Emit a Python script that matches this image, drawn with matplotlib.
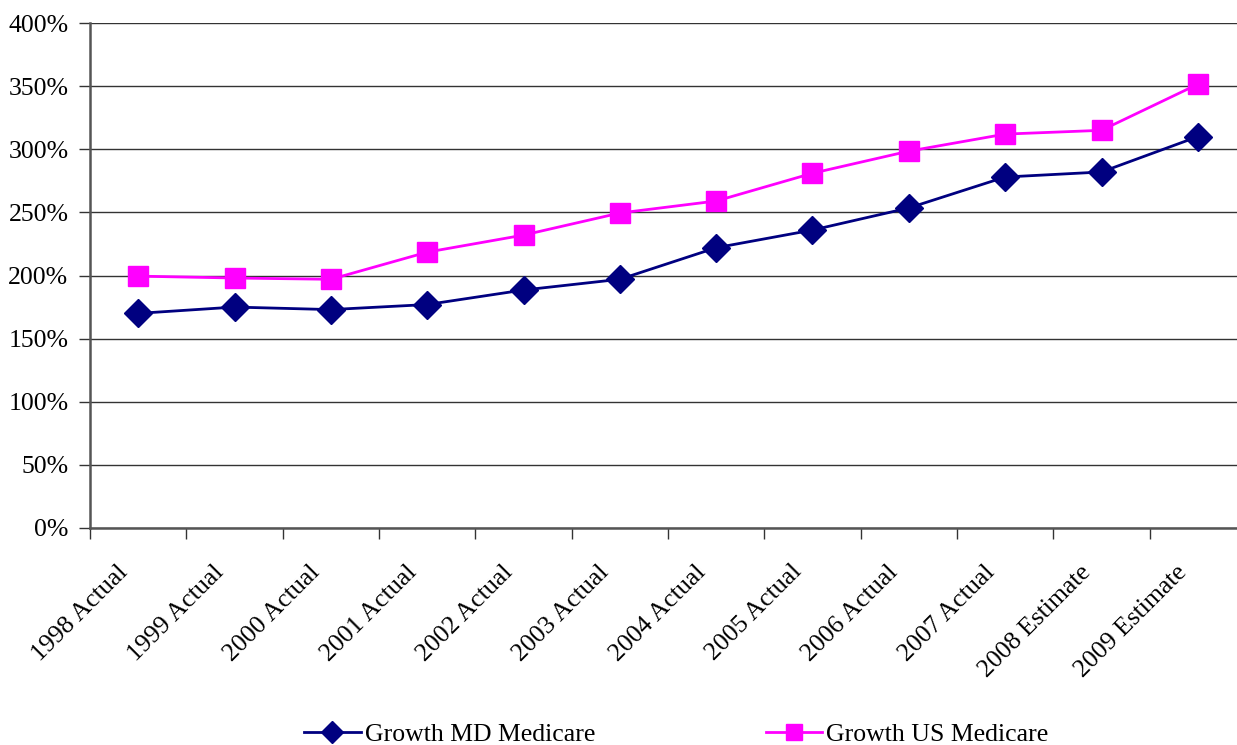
import numpy as np
import matplotlib.pyplot as plt
from matplotlib.ticker import PercentFormatter
from matplotlib.transforms import ScaledTranslation

# データ
years = ['1998 Actual', '1999 Actual', '2000 Actual', '2001 Actual', '2002 Actual',
         '2003 Actual', '2004 Actual', '2005 Actual', '2006 Actual', '2007 Actual',
         '2008 Estimate', '2009 Estimate']
md_growth = [170, 175, 173, 177, 188.5, 197, 222, 236, 253.5, 278, 282, 310]
us_growth = [199.5, 198, 197, 218.5, 232, 249.5, 259, 281, 298.5, 312, 315, 351.5]

plt.rcParams['font.family'] = ['Liberation Serif', 'DejaVu Serif']

fig = plt.figure(figsize=(12.37, 7.45), dpi=100)
ax = fig.add_axes([90 / 1237, 1 - 528 / 745, 1156 / 1237, 505 / 745])

x = np.arange(len(years))
ax.plot(x, md_growth, color='#000080', lw=2, marker='D', ms=14,
        label='Growth MD Medicare')
ax.plot(x, us_growth, color='#FF00FF', lw=2, marker='s', ms=15,
        label='Growth US Medicare')

ax.set_xlim(-0.5, len(years) - 0.5)
ax.set_ylim(0, 400)
ax.set_yticks(np.arange(0, 401, 50))
ax.yaxis.set_major_formatter(PercentFormatter(decimals=0))
ax.yaxis.grid(True, color='#333333', lw=1)
ax.set_axisbelow(True)

# 目盛り(カテゴリ境界)
ax.set_xticks(x)
ax.set_xticklabels(years, rotation=45, ha='right', rotation_mode='anchor')
ax.set_xticks(np.arange(len(years) + 1) - 0.5, minor=True)
ax.tick_params(axis='x', which='major', length=0, pad=28, labelsize=18.5)
ax.tick_params(axis='x', which='minor', length=8, width=1, color='#333333', direction='out')
ax.tick_params(axis='y', length=8, width=1, color='#333333', labelsize=18.5, pad=7.5)

# ラベルを少し左へずらす
shift = ScaledTranslation(-0.22, 0.06, fig.dpi_scale_trans)
for lab in ax.get_xticklabels():
    lab.set_transform(lab.get_transform() + shift)

for s in ['top', 'right']:
    ax.spines[s].set_visible(False)
ax.spines['left'].set_color('#555555')
ax.spines['left'].set_linewidth(1.8)
ax.spines['bottom'].set_color('#555555')
ax.spines['bottom'].set_linewidth(1.8)

fig.legend(loc='lower left', bbox_to_anchor=(281 / 1237, -0.032), ncol=2, frameon=False,
           fontsize=18.5, columnspacing=6.65, handlelength=2.2, handletextpad=0.15,
           markerscale=0.8)

fig.savefig('out.png', dpi=100)
